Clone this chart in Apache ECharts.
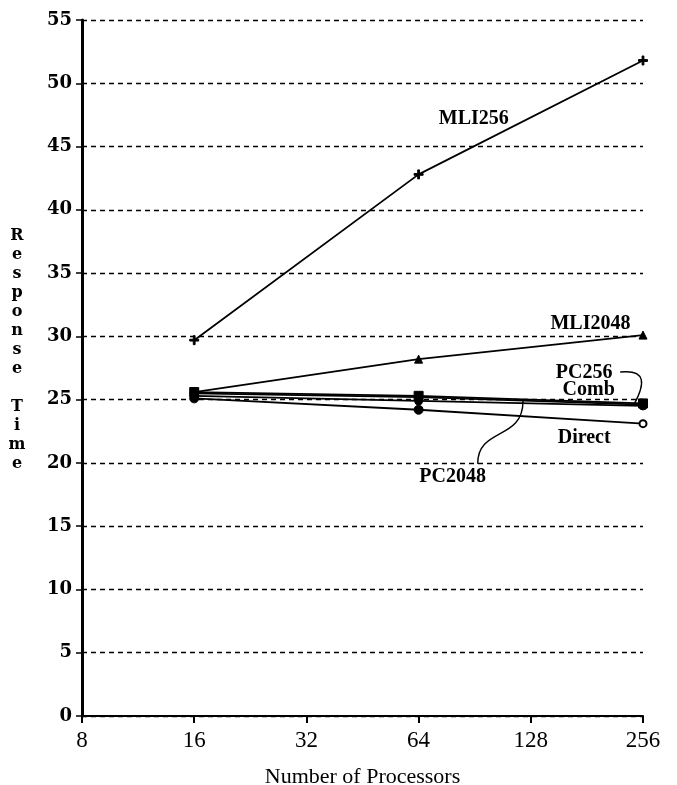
<!DOCTYPE html>
<html><head><meta charset="utf-8">
<script src="https://cdn.jsdelivr.net/npm/echarts@6/dist/echarts.min.js"></script>
<style>html,body{margin:0;padding:0;background:#fff}#c{width:677px;height:785px}</style>
</head><body><div id="c"></div>
<script>
const processors = [16, 64, 256];
const xTicks = [8, 16, 32, 64, 128, 256];
const yTicks = [0, 5, 10, 15, 20, 25, 30, 35, 40, 45, 50, 55];
const mli256 = [29.7, 42.8, 51.8];
const mli2048 = [25.6, 28.2, 30.1];
const pc256 = [25.6, 25.3, 24.7];
const comb = [25.5, 25.2, 24.6];
const pc2048 = [25.3, 24.9, 24.5];
const direct = [25.1, 24.2, 23.1];

const serif = 'Liberation Serif';
function mk(name, vals, symbol, size) {
  return {
    name, type: 'line', data: processors.map((p, i) => [p, vals[i]]),
    symbol, symbolSize: size, showSymbol: true,
    lineStyle: { color: '#000', width: 1.8 },
    itemStyle: { color: '#000', borderColor: '#000' },
    z: 5, animation: false
  };
}
const series = [
  mk('MLI256', mli256, 'path://M4,0 L6,0 L6,4 L10,4 L10,6 L6,6 L6,10 L4,10 L4,6 L0,6 L0,4 L4,4 Z', 9),
  mk('MLI2048', mli2048, 'triangle', 8),
  mk('PC256', pc256, 'rect', 9),
  mk('Comb', comb, 'diamond', 9),
  mk('PC2048', pc2048, 'circle', 8),
  Object.assign(mk('Direct', direct, 'circle', 9), {
    data: processors.map((p, i) => i === 2 ? { value: [p, direct[i]], itemStyle: { color: '#fff', borderColor: '#000', borderWidth: 2 }, symbolSize: 7 } : [p, direct[i]])
  })
];

const chart = echarts.init(document.getElementById('c'), null, { renderer: 'canvas' });
chart.setOption({
  animation: false,
  backgroundColor: '#fff',
  grid: { left: 82, right: 34, top: 20, bottom: 69, containLabel: false, outerBoundsMode: 'none' },
  xAxis: {
    type: 'log', logBase: 2, min: 8, max: 256,
    name: 'Number of Processors', nameLocation: 'middle', nameGap: 50,
    nameTextStyle: { fontFamily: serif, fontSize: 22, color: '#000' },
    axisLine: { lineStyle: { color: '#000', width: 2 } },
    axisTick: { show: true, length: 7, lineStyle: { color: '#000', width: 2 } },
    minorTick: { show: false },
    axisLabel: { fontFamily: serif, fontSize: 23, color: '#000', margin: 13,
      formatter: v => String(Math.round(v)) },
    splitLine: { show: false }
  },
  yAxis: {
    type: 'value', min: 0, max: 55, interval: 5,
    axisLine: { show: true, lineStyle: { color: '#000', width: 3 } },
    axisTick: { show: true, length: 6, lineStyle: { color: '#000', width: 1.5 } },
    axisLabel: { fontFamily: 'DejaVu Serif', fontWeight: 'bold', fontSize: 18, color: '#000', margin: 10 },
    splitLine: { show: true, lineStyle: { color: '#000', type: [5, 4], width: 1.3 } }
  },
  series
});

function px(x, y) { return chart.convertToPixel({ gridIndex: 0 }, [x, y]); }
const ttl = 'Response Time'.split('').map(c => c === ' ' ? '' : c).join('\n');
const pMLI256 = px(90, 47.2);
const pMLI2048 = px(185, 31.0);
const pPC256 = px(178, 27.1);
const pComb = px(183, 25.8);
const pDirect = px(178, 22.0);
const pPC2048 = px(79, 18.9);
const a1 = px(256, 27.0), a1e = px(242, 24.6);
const b1 = px(122, 24.9);
const textStyle = (t, p) => ({ type: 'text', x: p[0], y: p[1], style: { text: t, fontFamily: serif, fontWeight: 'bold', fontSize: 20, fill: '#000', align: 'center', verticalAlign: 'middle' }, z: 20 });
chart.setOption({
  graphic: [
    { type: 'text', x: 17, y: 350, style: { text: ttl, fontFamily: 'DejaVu Serif', fontWeight: 'bold', fontSize: 16, lineHeight: 19, fill: '#000', align: 'center', verticalAlign: 'middle' } },
    textStyle('MLI256', pMLI256),
    textStyle('MLI2048', pMLI2048),
    textStyle('PC256', pPC256),
    textStyle('Comb', pComb),
    textStyle('Direct', pDirect),
    textStyle('PC2048', pPC2048),
    { type: 'bezierCurve', z: 20, shape: { x1: pPC256[0] + 36, y1: pPC256[1] - 1, cpx1: a1[0] + 4, cpy1: pPC256[1] - 4, cpx2: a1[0] + 2, cpy2: a1[1] + 10, x2: a1e[0], y2: a1e[1] }, style: { stroke: '#000', lineWidth: 1.4, fill: null } },
    { type: 'bezierCurve', z: 20, shape: { x1: pPC2048[0] + 25, y1: pPC2048[1] - 13, cpx1: pPC2048[0] + 25, cpy1: pPC2048[1] - 50, cpx2: b1[0], cpy2: b1[1] + 40, x2: b1[0], y2: b1[1] }, style: { stroke: '#000', lineWidth: 1.4, fill: null } }
  ]
});
</script></body></html>
